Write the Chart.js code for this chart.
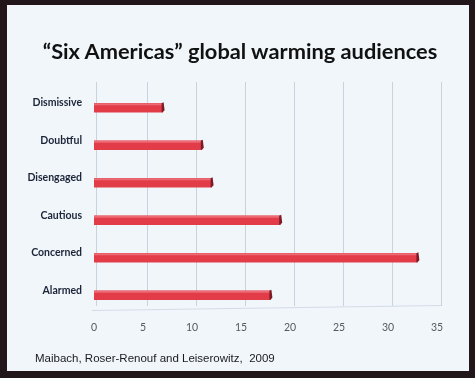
<!DOCTYPE html>
<html>
<head>
<meta charset="utf-8">
<script src="https://cdn.jsdelivr.net/npm/chart.js@4"></script>
<style>
  html, body { margin: 0; padding: 0; background: #1e1418; }
  #frame {
    position: absolute; left: 0; top: 0; width: 475px; height: 378px;
    box-sizing: border-box; background: #f0f6fa;
    border-left: 7px solid #22161a; border-top: 5px solid #22161a;
    border-right: 6px solid #22161a; border-bottom: 7px solid #22161a;
  }
  #wrap { position: absolute; left: 0; top: 0; width: 462px; height: 366px; }
  #title {
    position: absolute; left: 0; width: 466px; top: 33px; text-align: center;
    font-family: Lato, sans-serif; font-weight: bold; font-size: 21.8px; color: #111111;
    line-height: 26px; white-space: nowrap;
  }
  #footer {
    position: absolute; left: 28px; top: 347px;
    font-family: "Liberation Sans", Arial, sans-serif; font-size: 11.5px; color: #1a1a22;
    white-space: pre;
  }
</style>
</head>
<body>
<div id="frame">
  <div id="wrap"><canvas id="c" width="462" height="366"></canvas></div>
  <div id="title"></div>
  <div id="footer">Maibach, Roser-Renouf and Leiserowitz,  2009</div>
</div>
<script>
const categories = ["Dismissive", "Doubtful", "Disengaged", "Cautious", "Concerned", "Alarmed"];
const percentages = [7, 11, 12, 19, 33, 18];
const xTicks = [0, 5, 10, 15, 20, 25, 30, 35];
const titleText = "\u201cSix Americas\u201d global warming audiences";
document.getElementById('title').textContent = titleText;

// back-wall gridlines and 3D bar ends, positioned through the chart's scales
const wallAndDepth = {
  id: 'wallAndDepth',
  beforeDatasetsDraw(chart) {
    const ctx = chart.ctx, x = chart.scales.x, a = chart.chartArea;
    ctx.save();
    ctx.strokeStyle = '#c9d3e0';
    ctx.lineWidth = 1;
    xTicks.forEach((v, i) => {
      const px = Math.round(x.getPixelForValue(v) + (i === 0 ? 2 : 4)) + 0.5;
      ctx.beginPath();
      ctx.moveTo(px, a.top - 7);
      ctx.lineTo(px, a.bottom - 8);
      ctx.stroke();
    });
    // floor edge
    ctx.strokeStyle = '#d3dbe6';
    ctx.beginPath();
    ctx.moveTo(x.getPixelForValue(0) - 2, a.bottom - 3.5);
    ctx.lineTo(x.getPixelForValue(35) + 4, a.bottom - 8.5);
    ctx.stroke();
    ctx.restore();
  },
  afterDatasetsDraw(chart) {
    const ctx = chart.ctx;
    const meta = chart.getDatasetMeta(0);
    ctx.save();
    meta.data.forEach(bar => {
      const p = bar.getProps(['x', 'y', 'base', 'height'], true);
      const top = p.y - p.height / 2, bot = p.y + p.height / 2;
      // top highlight strip
      ctx.fillStyle = '#ec6a74';
      ctx.fillRect(p.base, top, p.x - p.base, 2);
      // dark side face
      ctx.fillStyle = '#7e1a26';
      ctx.beginPath();
      ctx.moveTo(p.x - 1, top);
      ctx.lineTo(p.x + 1, top - 1);
      ctx.lineTo(p.x + 2, bot - 2);
      ctx.lineTo(p.x, bot);
      ctx.lineTo(p.x - 1, bot);
      ctx.closePath();
      ctx.fill();
    });
    ctx.restore();
  }
};

new Chart(document.getElementById('c'), {
  type: 'bar',
  data: {
    labels: categories,
    datasets: [{
      data: percentages,
      backgroundColor: '#e23c49',
      borderWidth: 0,
      barThickness: 9
    }]
  },
  options: {
    indexAxis: 'y',
    responsive: false,
    animation: false,
    layout: { padding: { top: 84, right: 32, bottom: 0, left: 0 } },
    plugins: {
      legend: { display: false },
      tooltip: { enabled: false },
      title: { display: false }
    },
    scales: {
      x: {
        min: 0, max: 35,
        afterBuildTicks(s) { s.ticks = xTicks.map(v => ({ value: v })); },
        grid: { display: false, drawTicks: false },
        border: { display: false },
        ticks: {
          color: '#555a60',
          font: { family: 'Lato', size: 10.5 },
          padding: 7,
          maxRotation: 0
        },
        afterFit(s) { s.height = 57; }
      },
      y: {
        grid: { display: false, drawTicks: false },
        border: { display: false },
        ticks: {
          color: '#1c2438',
          font: { family: 'Lato', weight: 'bold', size: 10.5 },
          padding: 12,
          labelOffset: -5
        },
        afterFit(s) { s.width = 87; }
      }
    }
  },
  plugins: [wallAndDepth]
});
</script>
</body>
</html>
